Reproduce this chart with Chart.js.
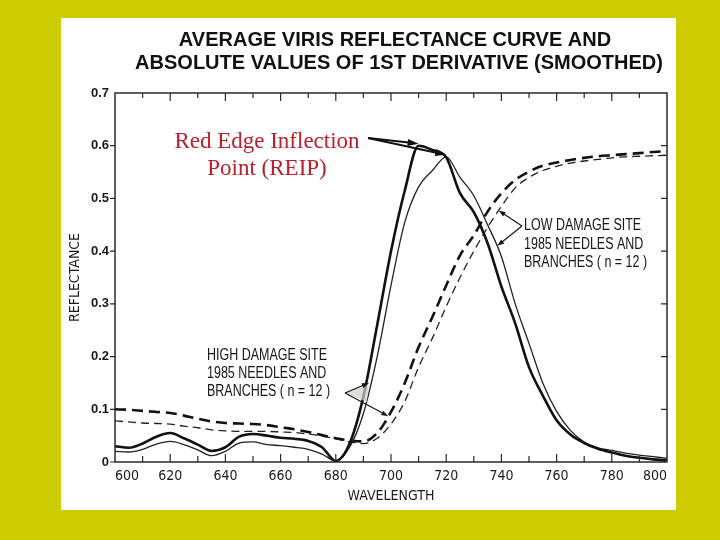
<!DOCTYPE html>
<html>
<head>
<meta charset="utf-8">
<script src="https://cdn.jsdelivr.net/npm/chart.js@4.4.0/dist/chart.umd.min.js"></script>
<style>
  html, body { margin: 0; padding: 0; background: #cccc00; }
  body { width: 720px; height: 540px; position: relative; overflow: hidden; }
  #panel { position: absolute; left: 61px; top: 18px; width: 615px; height: 492px; background: #fff; }
</style>
</head>
<body>
<div id="panel"><canvas id="chart" width="615" height="492"></canvas></div>
<script>
// wavelength (nm)
const wavelengths = [600, 605, 610, 615, 620, 625, 630, 635, 640, 645, 650, 655, 660, 665, 670, 675,
  680, 685, 690, 695, 700, 705, 710, 715, 720, 725, 730, 735, 740, 745, 750, 755, 760, 765, 770, 775,
  780, 785, 790, 795, 800];

// 1st derivative, high damage (thick solid)
const derivHigh = [0.030, 0.027, 0.035, 0.048, 0.055, 0.045, 0.033, 0.021, 0.028, 0.048, 0.053, 0.050,
  0.046, 0.044, 0.040, 0.028, 0.002, 0.035, 0.124, 0.260, 0.400, 0.515, 0.600, 0.592, 0.578, 0.510,
  0.474, 0.415, 0.333, 0.263, 0.180, 0.126, 0.079, 0.052, 0.036, 0.025, 0.018, 0.012, 0.008, 0.005, 0.003];

// 1st derivative, low damage (thin solid)
const derivLow = [0.020, 0.019, 0.024, 0.034, 0.039, 0.033, 0.023, 0.012, 0.020, 0.036, 0.038, 0.033,
  0.031, 0.028, 0.024, 0.015, 0.002, 0.028, 0.092, 0.200, 0.335, 0.455, 0.522, 0.553, 0.579, 0.540,
  0.505, 0.450, 0.390, 0.300, 0.225, 0.150, 0.096, 0.060, 0.038, 0.027, 0.022, 0.017, 0.013, 0.010, 0.007];

// reflectance, high damage (thick dashed)
const reflHigh = [0.100, 0.099, 0.097, 0.095, 0.093, 0.088, 0.082, 0.077, 0.074, 0.073, 0.072, 0.070,
  0.066, 0.062, 0.057, 0.051, 0.045, 0.041, 0.039, 0.055, 0.095, 0.150, 0.218, 0.275, 0.335, 0.392,
  0.430, 0.475, 0.510, 0.535, 0.551, 0.562, 0.568, 0.573, 0.577, 0.580, 0.582, 0.584, 0.586, 0.588, 0.590];

// reflectance, low damage (thin dashed)
const reflLow = [0.078, 0.076, 0.074, 0.073, 0.072, 0.068, 0.065, 0.061, 0.059, 0.058, 0.058, 0.058,
  0.057, 0.056, 0.053, 0.049, 0.044, 0.038, 0.035, 0.045, 0.072, 0.115, 0.180, 0.235, 0.295, 0.350,
  0.400, 0.445, 0.485, 0.520, 0.540, 0.553, 0.561, 0.567, 0.571, 0.574, 0.577, 0.579, 0.580, 0.581, 0.582];

const titleLines = ['AVERAGE VIRIS REFLECTANCE CURVE AND', 'ABSOLUTE VALUES OF 1ST DERIVATIVE (SMOOTHED)'];
const highLabel = ['HIGH DAMAGE SITE', '1985 NEEDLES AND', 'BRANCHES ( n = 12 )'];
const lowLabel = ['LOW DAMAGE SITE', '1985 NEEDLES AND', 'BRANCHES ( n = 12 )'];
const reipLabel = ['Red Edge Inflection', 'Point (REIP)'];

const ink = '#161616';
const narrow = "'Liberation Sans Narrow', 'DejaVu Sans Condensed', 'Liberation Sans', sans-serif";

function pts(arr) {
  return wavelengths.map((w, i) => ({x: w, y: arr[i]}));
}

function squeezed(ctx, text, x, y, size, sx) {
  ctx.save();
  ctx.font = size + "px 'Liberation Sans', sans-serif";
  ctx.translate(x, y);
  ctx.scale(sx, 1);
  ctx.textAlign = 'left';
  ctx.textBaseline = 'middle';
  ctx.fillText(text, 0, 0);
  ctx.restore();
}

function arrow(ctx, x1, y1, x2, y2, head, width) {
  const a = Math.atan2(y2 - y1, x2 - x1);
  ctx.beginPath();
  ctx.moveTo(x1, y1);
  ctx.lineTo(x2 - Math.cos(a) * head * 0.7, y2 - Math.sin(a) * head * 0.7);
  ctx.stroke();
  ctx.beginPath();
  ctx.moveTo(x2, y2);
  ctx.lineTo(x2 - Math.cos(a) * head + Math.sin(a) * width, y2 - Math.sin(a) * head - Math.cos(a) * width);
  ctx.lineTo(x2 - Math.cos(a) * head - Math.sin(a) * width, y2 - Math.sin(a) * head + Math.cos(a) * width);
  ctx.closePath();
  ctx.fill();
}

function peakOf(arr) {
  let k = 0;
  arr.forEach((v, i) => { if (v > arr[k]) k = i; });
  return {x: wavelengths[k], y: arr[k]};
}

// box round the plot, with the small inward/outward tick marks
const framePlugin = {
  id: 'frame',
  afterDatasetsDraw(chart) {
    const {ctx, chartArea: a, scales: {x, y}} = chart;
    ctx.save();
    ctx.strokeStyle = '#2a2a2a';
    ctx.lineWidth = 1.5;
    ctx.strokeRect(a.left, a.top, a.right - a.left, a.bottom - a.top);
    ctx.lineWidth = 1.2;
    const xt = x.ticks.map(t => t.value);
    ctx.beginPath();
    xt.forEach((v, i) => {
      const px = x.getPixelForValue(v);
      if (i > 0 && i < xt.length - 1) {
        ctx.moveTo(px, a.bottom); ctx.lineTo(px, a.bottom - 8);
        ctx.moveTo(px, a.top); ctx.lineTo(px, a.top + 8);
      }
      if (i < xt.length - 1) {
        const m = x.getPixelForValue((v + xt[i + 1]) / 2);
        ctx.moveTo(m, a.bottom); ctx.lineTo(m, a.bottom - 6);
        ctx.moveTo(m, a.top); ctx.lineTo(m, a.top + 5);
      }
    });
    const yt = y.ticks.map(t => t.value);
    yt.forEach((v, i) => {
      if (i === yt.length - 1) return;
      const py = y.getPixelForValue(v);
      ctx.moveTo(a.left - 5, py); ctx.lineTo(a.left, py);
      if (i > 0) { ctx.moveTo(a.right, py); ctx.lineTo(a.right - 6, py); }
    });
    ctx.stroke();
    ctx.restore();
  }
};

// title, curve labels and arrows
const notesPlugin = {
  id: 'notes',
  afterDraw(chart) {
    const {ctx, scales: {x, y}} = chart;
    const P = p => [x.getPixelForValue(p.x), y.getPixelForValue(p.y)];
    ctx.save();
    ctx.fillStyle = '#111';
    ctx.font = "bold 20px 'Liberation Sans', Arial, sans-serif";
    ctx.textAlign = 'center';
    ctx.textBaseline = 'middle';
    ctx.fillText(titleLines[0], 334, 22);
    ctx.fillText(titleLines[1], 338, 45);

    // REIP note
    ctx.fillStyle = '#b8202c';
    ctx.font = "23px 'Liberation Serif', 'Times New Roman', serif";
    ctx.textBaseline = 'alphabetic';
    ctx.fillText(reipLabel[0], 206, 130);
    ctx.fillText(reipLabel[1], 206, 157);
    ctx.fillStyle = '#111';
    ctx.strokeStyle = '#111';
    ctx.lineWidth = 2;
    let [tx, ty] = P(peakOf(derivHigh));
    arrow(ctx, 307, 120, tx, ty - 2, 11, 3.5);
    [tx, ty] = P(peakOf(derivLow));
    arrow(ctx, 307, 120, tx, ty - 2, 11, 3.5);

    // site labels
    ctx.fillStyle = ink;
    highLabel.forEach((t, i) => squeezed(ctx, t, 146, 338 + i * 18, 16, 0.78));
    lowLabel.forEach((t, i) => squeezed(ctx, t, 463, 208 + i * 18.5, 16, 0.78));

    ctx.lineWidth = 1.1;
    ctx.fillStyle = 'rgba(205,210,200,0.7)';
    ctx.beginPath();
    ctx.moveTo(284, 375); ctx.lineTo(308, 364); ctx.lineTo(306, 384); ctx.closePath();
    ctx.fill();
    ctx.fillStyle = ink;
    [[{x: 692, y: 0.15}, 284, 375], [{x: 699, y: 0.087}, 284, 375],
     [{x: 739, y: 0.477}, 461, 208], [{x: 738.5, y: 0.41}, 461, 208]].forEach(([p, sx, sy]) => {
      const [ex, ey] = P(p);
      arrow(ctx, sx, sy, ex, ey, 7, 2.5);
    });
    ctx.restore();
  }
};

new Chart(document.getElementById('chart'), {
  type: 'line',
  data: {
    datasets: [
      {label: 'derivative high', data: pts(derivHigh), borderColor: '#111', borderWidth: 2.6},
      {label: 'derivative low', data: pts(derivLow), borderColor: '#222', borderWidth: 1.3},
      {label: 'reflectance high', data: pts(reflHigh), borderColor: '#111', borderWidth: 2.6, borderDash: [11, 6]},
      {label: 'reflectance low', data: pts(reflLow), borderColor: '#222', borderWidth: 1.3, borderDash: [8, 5]}
    ]
  },
  options: {
    responsive: false,
    animation: false,
    layout: {padding: {top: 75, right: 9, left: 0, bottom: 0}},
    elements: {
      point: {radius: 0},
      line: {cubicInterpolationMode: 'monotone', fill: false}
    },
    plugins: {legend: {display: false}, tooltip: {enabled: false}, title: {display: false}},
    scales: {
      x: {
        type: 'linear',
        min: 600,
        max: 800,
        ticks: {stepSize: 20, padding: 6, align: 'inner', color: '#1a1a1a', font: {family: narrow, size: 14}},
        grid: {display: false, drawTicks: false},
        border: {display: false},
        title: {display: true, text: 'WAVELENGTH', color: '#1a1a1a', padding: {top: 0, bottom: 5},
          font: {family: narrow, size: 14}},
        afterFit(s) { s.height = 48; s.paddingLeft = 0; s.paddingRight = 0; }
      },
      y: {
        type: 'linear',
        min: 0,
        max: 0.7,
        ticks: {stepSize: 0.1, padding: 6, color: '#1a1a1a', font: {family: "'Liberation Sans', sans-serif", size: 13, weight: 'bold'}},
        grid: {display: false, drawTicks: false},
        border: {display: false},
        title: {display: true, text: 'REFLECTANCE', color: '#1a1a1a', padding: {top: 6, bottom: 0},
          font: {family: narrow, size: 14}},
        afterFit(s) { s.width = 54; s.paddingTop = 0; s.paddingBottom = 0; }
      }
    }
  },
  plugins: [framePlugin, notesPlugin]
});
</script>
</body>
</html>
